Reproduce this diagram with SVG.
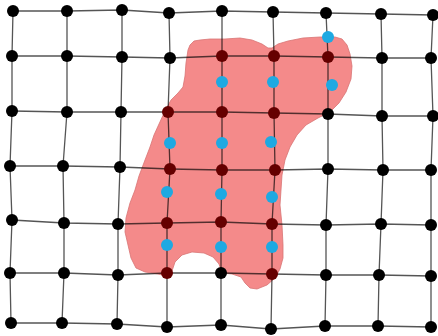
<svg xmlns="http://www.w3.org/2000/svg" width="438" height="336" viewBox="0 0 438 336">
<style>
.ln{fill:none;stroke:#555;stroke-width:1.3;stroke-linejoin:round}
.blob{fill:#f48a8a;stroke:#d87474;stroke-width:0.8;stroke-linejoin:round;mix-blend-mode:multiply}
.k{fill:#000}
.r{fill:#650000}
.b{fill:#1ea9e2}
</style>
<rect width="438" height="336" fill="#fff"/>
<g id="connectors">
<polyline class="ln" points="13,11 67,11 122,10 169,13 222,11 273,12 326,13 381,14 433,15"/>
<polyline class="ln" points="12,56 67,56 122,57 170,58 222,56 274,56 328,57 382,58 431,58"/>
<polyline class="ln" points="12,111 67,112 121,112 168,112 222,112 274,113 328,114 382,116 433,116"/>
<polyline class="ln" points="10,166 63,166 120,167 170,169 222,170 275,170 328,169 383,170 431,170"/>
<polyline class="ln" points="12,220 64,223 118,224 167,223 221,222 272,224 326,225 381,224 431,225"/>
<polyline class="ln" points="10,273 64,273 118,275 167,273 221,273 272,274 326,275 379,275 431,276"/>
<polyline class="ln" points="11,323 62,323 117,324 167,327 221,325 271,329 325,326 378,326 431,327"/>
<polyline class="ln" points="13,11 12,56 12,111 10,166 12,220 10,273 11,323"/>
<polyline class="ln" points="67,11 67,56 67,112 63,166 64,223 64,273 62,323"/>
<polyline class="ln" points="122,10 122,57 121,112 120,167 118,224 118,275 117,324"/>
<polyline class="ln" points="169,13 170,58 168,112 170,169 167,223 167,273 167,327"/>
<polyline class="ln" points="222,11 222,56 222,112 222,170 221,222 221,273 221,325"/>
<polyline class="ln" points="273,12 274,56 274,113 275,170 272,224 272,274 271,329"/>
<polyline class="ln" points="326,13 328,57 328,114 328,169 326,225 326,275 325,326"/>
<polyline class="ln" points="381,14 382,58 382,116 383,170 381,224 379,275 378,326"/>
<polyline class="ln" points="433,15 431,58 433,116 431,170 431,225 431,276 431,327"/>
</g>
<path id="region" class="blob" d="M188,50 L190,45 194,41 200,40 210,39 225,39 240,38 252,40 262,44 268,48 272,48 278,44 288,41 303,38 320,37 335,37 342,39 347,45 350,54 352,66 351,79 346,92 339,103 330,112 318,118 306,125 297,135 290,147 285,160 282,175 281,190 280,205 282,225 283,245 283,258 280,269 275,278 267,285 257,289 250,288 245,283 241,277 232,274 222,273 219,264 213,257 204,253 192,252 182,255 175,262 172,271 167,276 158,274 145,272 136,268 131,258 128,245 125,232 126,218 130,203 135,190 139,176 145,160 150,147 154,135 159,124 165,111 171,100 178,93 183,87 185,76 186,63 Z"/>
<g id="n0-0"><circle class="k" cx="13" cy="11" r="6"/></g>
<g id="n0-1"><circle class="k" cx="67" cy="11" r="6"/></g>
<g id="n0-2"><circle class="k" cx="122" cy="10" r="6"/></g>
<g id="n0-3"><circle class="k" cx="169" cy="13" r="6"/></g>
<g id="n0-4"><circle class="k" cx="222" cy="11" r="6"/></g>
<g id="n0-5"><circle class="k" cx="273" cy="12" r="6"/></g>
<g id="n0-6"><circle class="k" cx="326" cy="13" r="6"/></g>
<g id="n0-7"><circle class="k" cx="381" cy="14" r="6"/></g>
<g id="n0-8"><circle class="k" cx="433" cy="15" r="6"/></g>
<g id="n1-0"><circle class="k" cx="12" cy="56" r="6"/></g>
<g id="n1-1"><circle class="k" cx="67" cy="56" r="6"/></g>
<g id="n1-2"><circle class="k" cx="122" cy="57" r="6"/></g>
<g id="n1-3"><circle class="k" cx="170" cy="58" r="6"/></g>
<g id="n1-4"><circle class="r" cx="222" cy="56" r="6"/></g>
<g id="n1-5"><circle class="r" cx="274" cy="56" r="6"/></g>
<g id="n1-6"><circle class="r" cx="328" cy="57" r="6"/></g>
<g id="n1-7"><circle class="k" cx="382" cy="58" r="6"/></g>
<g id="n1-8"><circle class="k" cx="431" cy="58" r="6"/></g>
<g id="n2-0"><circle class="k" cx="12" cy="111" r="6"/></g>
<g id="n2-1"><circle class="k" cx="67" cy="112" r="6"/></g>
<g id="n2-2"><circle class="k" cx="121" cy="112" r="6"/></g>
<g id="n2-3"><circle class="r" cx="168" cy="112" r="6"/></g>
<g id="n2-4"><circle class="r" cx="222" cy="112" r="6"/></g>
<g id="n2-5"><circle class="r" cx="274" cy="113" r="6"/></g>
<g id="n2-6"><circle class="k" cx="328" cy="114" r="6"/></g>
<g id="n2-7"><circle class="k" cx="382" cy="116" r="6"/></g>
<g id="n2-8"><circle class="k" cx="433" cy="116" r="6"/></g>
<g id="n3-0"><circle class="k" cx="10" cy="166" r="6"/></g>
<g id="n3-1"><circle class="k" cx="63" cy="166" r="6"/></g>
<g id="n3-2"><circle class="k" cx="120" cy="167" r="6"/></g>
<g id="n3-3"><circle class="r" cx="170" cy="169" r="6"/></g>
<g id="n3-4"><circle class="r" cx="222" cy="170" r="6"/></g>
<g id="n3-5"><circle class="r" cx="275" cy="170" r="6"/></g>
<g id="n3-6"><circle class="k" cx="328" cy="169" r="6"/></g>
<g id="n3-7"><circle class="k" cx="383" cy="170" r="6"/></g>
<g id="n3-8"><circle class="k" cx="431" cy="170" r="6"/></g>
<g id="n4-0"><circle class="k" cx="12" cy="220" r="6"/></g>
<g id="n4-1"><circle class="k" cx="64" cy="223" r="6"/></g>
<g id="n4-2"><circle class="k" cx="118" cy="224" r="6"/></g>
<g id="n4-3"><circle class="r" cx="167" cy="223" r="6"/></g>
<g id="n4-4"><circle class="r" cx="221" cy="222" r="6"/></g>
<g id="n4-5"><circle class="r" cx="272" cy="224" r="6"/></g>
<g id="n4-6"><circle class="k" cx="326" cy="225" r="6"/></g>
<g id="n4-7"><circle class="k" cx="381" cy="224" r="6"/></g>
<g id="n4-8"><circle class="k" cx="431" cy="225" r="6"/></g>
<g id="n5-0"><circle class="k" cx="10" cy="273" r="6"/></g>
<g id="n5-1"><circle class="k" cx="64" cy="273" r="6"/></g>
<g id="n5-2"><circle class="k" cx="118" cy="275" r="6"/></g>
<g id="n5-3"><circle class="r" cx="167" cy="273" r="6"/></g>
<g id="n5-4"><circle class="k" cx="221" cy="273" r="6"/></g>
<g id="n5-5"><circle class="r" cx="272" cy="274" r="6"/></g>
<g id="n5-6"><circle class="k" cx="326" cy="275" r="6"/></g>
<g id="n5-7"><circle class="k" cx="379" cy="275" r="6"/></g>
<g id="n5-8"><circle class="k" cx="431" cy="276" r="6"/></g>
<g id="n6-0"><circle class="k" cx="11" cy="323" r="6"/></g>
<g id="n6-1"><circle class="k" cx="62" cy="323" r="6"/></g>
<g id="n6-2"><circle class="k" cx="117" cy="324" r="6"/></g>
<g id="n6-3"><circle class="k" cx="167" cy="327" r="6"/></g>
<g id="n6-4"><circle class="k" cx="221" cy="325" r="6"/></g>
<g id="n6-5"><circle class="k" cx="271" cy="329" r="6"/></g>
<g id="n6-6"><circle class="k" cx="325" cy="326" r="6"/></g>
<g id="n6-7"><circle class="k" cx="378" cy="326" r="6"/></g>
<g id="n6-8"><circle class="k" cx="431" cy="327" r="6"/></g>
<g id="m0"><circle class="b" cx="328" cy="37" r="6"/></g>
<g id="m1"><circle class="b" cx="222" cy="82" r="6"/></g>
<g id="m2"><circle class="b" cx="273" cy="82" r="6"/></g>
<g id="m3"><circle class="b" cx="332" cy="85" r="6"/></g>
<g id="m4"><circle class="b" cx="170" cy="143" r="6"/></g>
<g id="m5"><circle class="b" cx="222" cy="143" r="6"/></g>
<g id="m6"><circle class="b" cx="271" cy="142" r="6"/></g>
<g id="m7"><circle class="b" cx="167" cy="192" r="6"/></g>
<g id="m8"><circle class="b" cx="221" cy="194" r="6"/></g>
<g id="m9"><circle class="b" cx="272" cy="197" r="6"/></g>
<g id="m10"><circle class="b" cx="167" cy="245" r="6"/></g>
<g id="m11"><circle class="b" cx="221" cy="247" r="6"/></g>
<g id="m12"><circle class="b" cx="272" cy="247" r="6"/></g>
</svg>
